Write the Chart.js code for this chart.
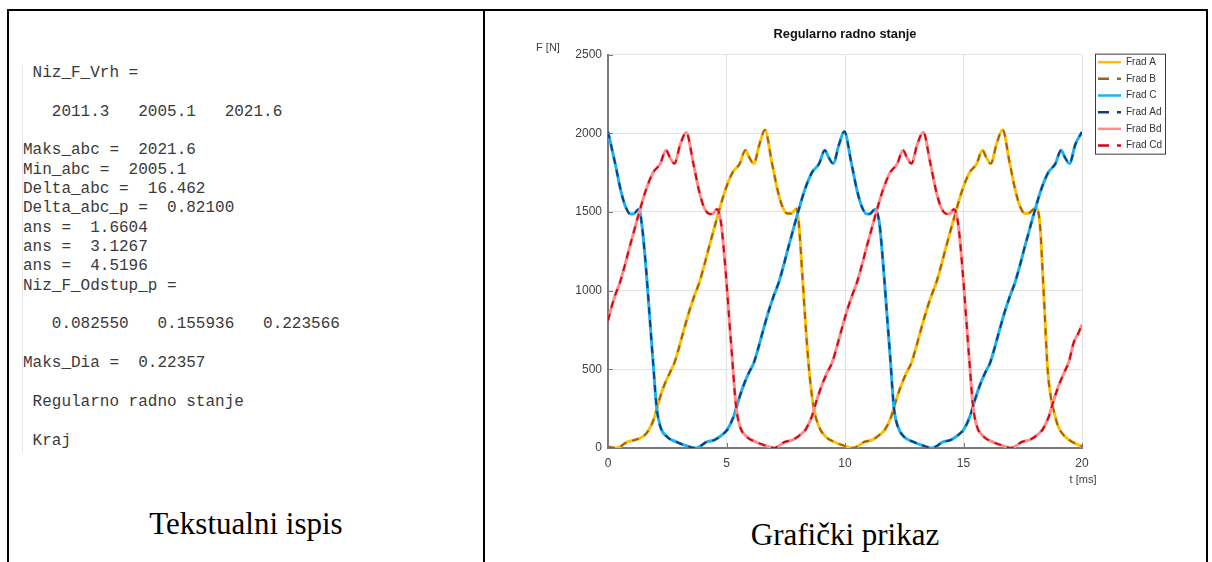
<!DOCTYPE html>
<html>
<head>
<meta charset="utf-8">
<script src="https://cdn.jsdelivr.net/npm/chart.js@4"></script>
<style>
  html, body { margin: 0; padding: 0; background: #fff; }
  body { width: 1212px; height: 562px; overflow: hidden; position: relative; }
  #frame { position: absolute; left: 7px; top: 9px; width: 1197px; height: 600px; border: 2px solid #000; border-bottom: none; }
  #divider { position: absolute; left: 483px; top: 9px; width: 2px; height: 600px; background: #000; }
  #consoleEdge { position: absolute; left: 22px; top: 65px; width: 1px; height: 388px; background: #e6e6e6; }
  #console { position: absolute; left: 23px; top: 64px; margin: 0; font-family: "Liberation Mono", "Courier New", monospace; font-size: 16px; line-height: 19.35px; color: #3a3a3a; }
  .caption { position: absolute; font-family: "Liberation Serif", "Times New Roman", serif; font-size: 31px; line-height: 31px; color: #000; text-align: center; }
  #chartBox { position: absolute; left: 486px; top: 12px; width: 718px; height: 495px; }
</style>
</head>
<body>
<div id="frame"></div>
<div id="divider"></div>
<div id="consoleEdge"></div>
<pre id="console"> Niz_F_Vrh =

   2011.3   2005.1   2021.6

Maks_abc =  2021.6
Min_abc =  2005.1
Delta_abc =  16.462
Delta_abc_p =  0.82100
ans =  1.6604
ans =  3.1267
ans =  4.5196
Niz_F_Odstup_p =

   0.082550   0.155936   0.223566

Maks_Dia =  0.22357

 Regularno radno stanje

 Kraj</pre>
<div class="caption" style="left:8px;width:476px;top:508px;">Tekstualni ispis</div>
<div class="caption" style="left:485px;width:720px;top:519px;">Grafički prikaz</div>
<div id="chartBox"><canvas id="myChart"></canvas></div>

<script>
// time [ms] and force [N]
const tA = [0, 0.35, 0.55, 0.8, 1.15, 1.5, 1.7, 1.95, 2.15, 2.35, 2.6, 2.8, 3.0, 3.2, 3.45, 3.65, 3.85, 4.05, 4.25, 4.45,
  4.7, 4.95, 5.25, 5.55, 5.8, 5.95, 6.15, 6.4, 6.62, 6.92, 7.17, 7.37, 7.57, 7.72, 7.95, 8.05, 8.2, 8.4, 8.55, 8.7,
  8.9, 9.2, 9.55, 9.95, 10.35, 10.55, 10.8, 11.15, 11.5, 11.7, 11.95, 12.15, 12.35, 12.6, 12.8, 13.0, 13.2, 13.45, 13.65, 13.85,
  14.05, 14.25, 14.45, 14.7, 14.95, 15.25, 15.55, 15.8, 15.95, 16.15, 16.4, 16.65, 16.95, 17.2, 17.4, 17.6, 17.78, 18.05, 18.22, 18.38,
  18.55, 18.7, 18.82, 19.0, 19.3, 19.6, 20];
const fA = [8, 0, 12, 38, 52, 75, 110, 190, 300, 390, 475, 540, 640, 750, 880, 970, 1050, 1155, 1270, 1380,
  1515, 1640, 1750, 1805, 1893, 1850, 1808, 1935, 2021, 1810, 1630, 1530, 1490, 1490, 1520, 1430, 1100, 650, 400, 240,
  135, 70, 38, 15, 0, 12, 38, 52, 88, 120, 200, 300, 390, 480, 540, 640, 750, 880, 970, 1050,
  1155, 1270, 1380, 1515, 1640, 1750, 1805, 1893, 1850, 1808, 1935, 2022, 1810, 1630, 1530, 1490, 1495, 1525, 1430, 1000,
  500, 310, 230, 135, 70, 38, 10];

const tB = [0, 0.1, 0.3, 0.5, 0.7, 0.9, 1.1, 1.35, 1.6, 1.9, 2.2, 2.45, 2.6, 2.8, 3.05, 3.3, 3.6, 3.85, 4.05, 4.25,
  4.4, 4.6, 4.77, 4.95, 5.1, 5.25, 5.4, 5.55, 5.85, 6.25, 6.65, 7.0, 7.2, 7.45, 7.8, 8.15, 8.35, 8.6, 8.8, 9.0,
  9.25, 9.45, 9.65, 9.85, 10.1, 10.3, 10.5, 10.7, 10.9, 11.1, 11.35, 11.6, 11.9, 12.2, 12.45, 12.6, 12.8, 13.05, 13.3, 13.6,
  13.85, 14.05, 14.25, 14.4, 14.6, 14.77, 14.95, 15.1, 15.25, 15.4, 15.55, 15.85, 16.25, 16.65, 17.0, 17.2, 17.45, 17.8, 18.15, 18.35,
  18.6, 18.8, 19.0, 19.25, 19.45, 19.65, 19.85, 20];
const fB = [810, 870, 970, 1050, 1155, 1270, 1380, 1515, 1640, 1750, 1805, 1893, 1850, 1808, 1930, 2005, 1810, 1630, 1530, 1490,
  1487, 1518, 1430, 1150, 850, 550, 270, 145, 72, 38, 15, 0, 12, 38, 52, 88, 120, 200, 300, 390,
  480, 540, 640, 750, 880, 970, 1050, 1155, 1270, 1380, 1515, 1640, 1750, 1805, 1893, 1850, 1808, 1930, 2007, 1810,
  1630, 1530, 1490, 1487, 1518, 1430, 1150, 850, 550, 270, 145, 72, 38, 15, 0, 12, 38, 52, 88, 120,
  200, 300, 390, 480, 550, 670, 730, 785];

const tC = [0, 0.3, 0.55, 0.75, 0.95, 1.1, 1.3, 1.42, 1.6, 1.75, 1.9, 2.05, 2.2, 2.5, 2.9, 3.3, 3.7, 3.9, 4.15, 4.5,
  4.85, 5.05, 5.3, 5.5, 5.7, 5.95, 6.15, 6.35, 6.55, 6.8, 7.0, 7.2, 7.4, 7.6, 7.8, 8.05, 8.3, 8.6, 8.9, 9.15,
  9.3, 9.5, 9.75, 9.97, 10.27, 10.52, 10.72, 10.92, 11.07, 11.27, 11.45, 11.62, 11.77, 11.92, 12.06, 12.22, 12.5, 12.9, 13.3, 13.67,
  13.87, 14.12, 14.47, 14.82, 15.02, 15.27, 15.47, 15.67, 15.92, 16.12, 16.32, 16.52, 16.77, 16.97, 17.17, 17.37, 17.57, 17.77, 18.02, 18.27,
  18.57, 18.87, 19.12, 19.27, 19.47, 19.72, 20];
const fC = [2010, 1810, 1630, 1530, 1487, 1490, 1518, 1430, 1150, 850, 550, 260, 140, 70, 38, 15, 0, 12, 38, 52,
  88, 120, 200, 300, 390, 480, 540, 640, 750, 880, 970, 1050, 1155, 1270, 1380, 1515, 1640, 1750, 1805, 1893,
  1850, 1808, 1930, 2011, 1810, 1630, 1530, 1487, 1490, 1518, 1430, 1150, 850, 550, 260, 140, 70, 38, 15, 0,
  12, 38, 52, 88, 120, 200, 300, 390, 480, 540, 640, 750, 880, 970, 1050, 1155, 1270, 1380, 1515, 1640,
  1750, 1805, 1893, 1850, 1808, 1930, 2008];

const seriesNames = ["Frad A", "Frad B", "Frad C", "Frad Ad", "Frad Bd", "Frad Cd"];
const seriesColors = ["#FFBF00", "#A0601A", "#1AB2F0", "#173C78", "#FF8C8C", "#CC0A14"];

const fontFamily = '"Liberation Sans", Arial, Helvetica, sans-serif';

function pts(t, f) {
  return t.map((x, i) => ({ x: x, y: f[i] }));
}

function solid(i, t, f) {
  return { label: seriesNames[i], data: pts(t, f), borderColor: seriesColors[i], borderWidth: 3, order: 5 - i };
}
function dashed(i, t, f) {
  return { label: seriesNames[i], data: pts(t, f), borderColor: seriesColors[i], borderWidth: 2, borderDash: [7, 6], order: 5 - i };
}

const data = {
  datasets: [
    solid(0, tA, fA),
    dashed(1, tA, fA),
    solid(2, tC, fC),
    dashed(3, tC, fC),
    solid(4, tB, fB),
    dashed(5, tB, fB),
  ],
};

// axis labels, inner tick marks and the boxed legend, octave style
const decor = {
  id: "decor",
  afterDraw(chart) {
    const ctx = chart.ctx;
    const a = chart.chartArea;
    const xs = chart.scales.x;
    const ys = chart.scales.y;
    ctx.save();

    ctx.strokeStyle = "#7a7a7a";
    ctx.lineWidth = 1;
    ys.ticks.forEach((tk) => {
      const y = Math.round(ys.getPixelForValue(tk.value)) + 0.5;
      ctx.beginPath(); ctx.moveTo(a.left, y); ctx.lineTo(a.left + 5, y); ctx.stroke();
    });
    xs.ticks.forEach((tk) => {
      const x = Math.round(xs.getPixelForValue(tk.value)) + 0.5;
      ctx.beginPath(); ctx.moveTo(x, a.bottom); ctx.lineTo(x, a.bottom - 5); ctx.stroke();
    });

    ctx.font = "11px " + fontFamily;
    ctx.fillStyle = "#404040";
    ctx.textAlign = "center";
    ctx.textBaseline = "middle";
    ctx.fillText("F [N]", a.left - 60, a.top - 7);
    ctx.fillText("t [ms]", a.right + 1, a.bottom + 32);

    const lx = a.right + 13, ly = a.top - 1, lw = 70, lh = 100;
    ctx.fillStyle = "#fff";
    ctx.fillRect(lx, ly, lw, lh);
    ctx.strokeStyle = "#3c3c3c";
    ctx.lineWidth = 1;
    ctx.strokeRect(lx + 0.5, ly + 0.5, lw, lh);
    ctx.font = "10px " + fontFamily;
    ctx.textAlign = "left";
    chart.data.datasets.forEach((ds, i) => {
      const y = ly + 8.5 + i * 16.67;
      ctx.strokeStyle = ds.borderColor;
      ctx.lineWidth = 2.5;
      ctx.setLineDash(ds.borderDash ? [11, 8] : []);
      ctx.beginPath(); ctx.moveTo(lx + 3, y); ctx.lineTo(lx + 26, y); ctx.stroke();
      ctx.setLineDash([]);
      ctx.fillStyle = "#333";
      ctx.fillText(ds.label, lx + 31, y);
    });
    ctx.restore();
  },
};

const config = {
  type: "line",
  data,
  options: {
    responsive: true,
    maintainAspectRatio: false,
    animation: false,
    layout: { padding: { top: 0, right: 122, bottom: 0, left: 0 } },
    elements: {
      point: { radius: 0 },
      line: { cubicInterpolationMode: "monotone", fill: false },
    },
    scales: {
      x: {
        type: "linear",
        min: 0,
        max: 20,
        ticks: { stepSize: 5, padding: 8, maxRotation: 0, color: "#404040", font: { size: 12, family: fontFamily }, callback: (v) => String(v) },
        grid: { color: "#e3e3e3", drawTicks: false },
        border: { color: "#7a7a7a", width: 2 },
        afterFit: (s) => { s.height = 59; },
      },
      y: {
        min: 0,
        max: 2500,
        ticks: { stepSize: 500, padding: 6, color: "#404040", font: { size: 12, family: fontFamily }, callback: (v) => String(v) },
        grid: { color: "#e3e3e3", drawTicks: false },
        border: { color: "#7a7a7a", width: 2 },
        afterFit: (s) => { s.width = 122; },
      },
    },
    plugins: {
      legend: { display: false },
      tooltip: { enabled: false },
      title: {
        display: true,
        text: "Regularno radno stanje",
        fullSize: false,
        color: "#111",
        font: { size: 12.8, weight: "bold", family: fontFamily },
        padding: { top: 14.5, bottom: 12.8 },
      },
    },
  },
  plugins: [decor],
};

const myChart = new Chart(document.getElementById("myChart"), config);
</script>
</body>
</html>
